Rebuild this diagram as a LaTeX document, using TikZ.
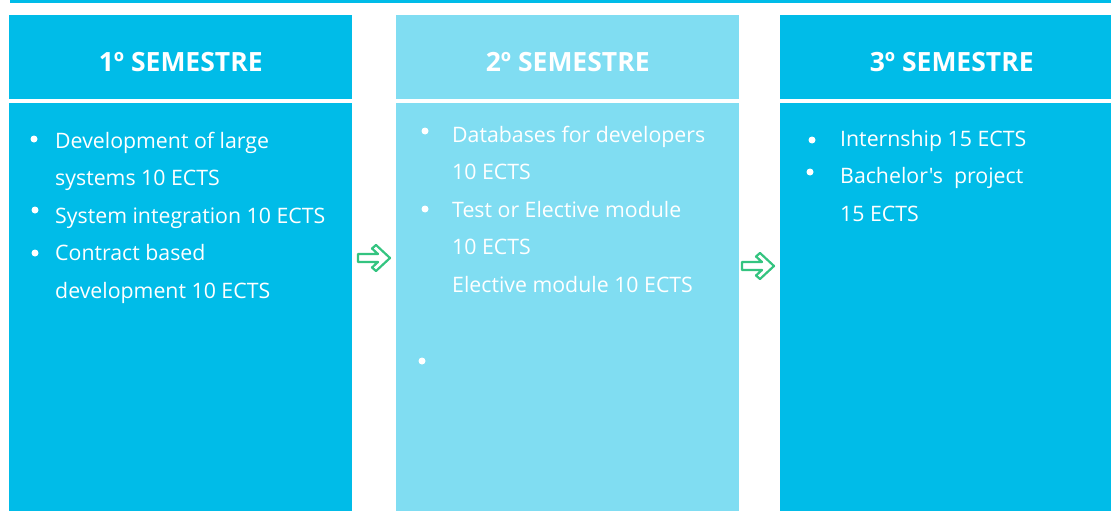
\documentclass[tikz,border=0pt]{standalone}
\usepackage{fontspec}
\setmainfont{Open Sans}[Ligatures=TeXOff]
\definecolor{semcyan}{RGB}{0,188,232}
\definecolor{semlight}{RGB}{128,221,242}
\definecolor{arrowgreen}{RGB}{52,196,128}
\begin{document}
\begin{tikzpicture}[x=1pt,y=-1pt,
  head/.style={fill=semcyan,inner sep=0pt,minimum width=343pt,minimum height=84pt,anchor=north west,text=white,
    text height=28pt,text depth=0pt,font=\fontsize{26.5}{30}\selectfont\bfseries},
  body/.style={fill=semcyan,inner sep=0pt,minimum width=343pt,minimum height=408pt,anchor=north west},
  item/.style={anchor=base west,inner sep=0pt,text=white,font=\fontsize{21.3}{26}\selectfont},
  dot/.style={circle,fill=white,inner sep=0pt,minimum size=7pt}]
\useasboundingbox (0,0) rectangle (1111,511);
\clip (0,0) rectangle (1111,511);
\fill[semcyan] (10,0) rectangle (1111,3);
\node[head] (h1) at (9,15) {1º SEMESTRE};
\node[head,fill=semlight] (h2) at (396,15) {2º SEMESTRE};
\node[head] (h3) at (780,15) {3º SEMESTRE};
\node[body] (b1) at (9,103) {};
\node[body,fill=semlight] (b2) at (396,103) {};
\node[body] (b3) at (780,103) {};
\foreach \t [count=\i] in {Development of large,systems 10 ECTS,System integration 10 ECTS,Contract based,development 10 ECTS}
	\node[item] (a\i) at (55,110.5+37.5*\i) {\t};
\foreach \t [count=\i] in {Databases for developers,10 ECTS,Test or Elective module,10 ECTS,Elective module 10 ECTS}
	\node[item] (c\i) at (452,104.5+37.5*\i) {\t};
\foreach \t [count=\i] in {Internship 15 ECTS,Bachelor's\ \ project,15 ECTS}
	\node[item] (e\i) at (840,108.5+37.5*\i) {\t};
\foreach \x/\y [count=\i] in {34/139,35/210,35/253,425/131,425/209,422/361,812/140,810/172}
	\node[dot] (d\i) at (\x,\y) {};
\coordinate (n1) at (374,258);
\coordinate (n2) at (758,266);
\foreach \n in {n1,n2}
	\draw[arrowgreen,line width=2.2pt,line join=round,fill=white,fill opacity=.6,shift={(\n)}]
	(-16,4)--(4,4)--(-2,9.5)--(2,13)--(16,0)--(2,-13)--(-2,-9.5)--(4,-4)--(-16,-4)--cycle;
\end{tikzpicture}
\end{document}
